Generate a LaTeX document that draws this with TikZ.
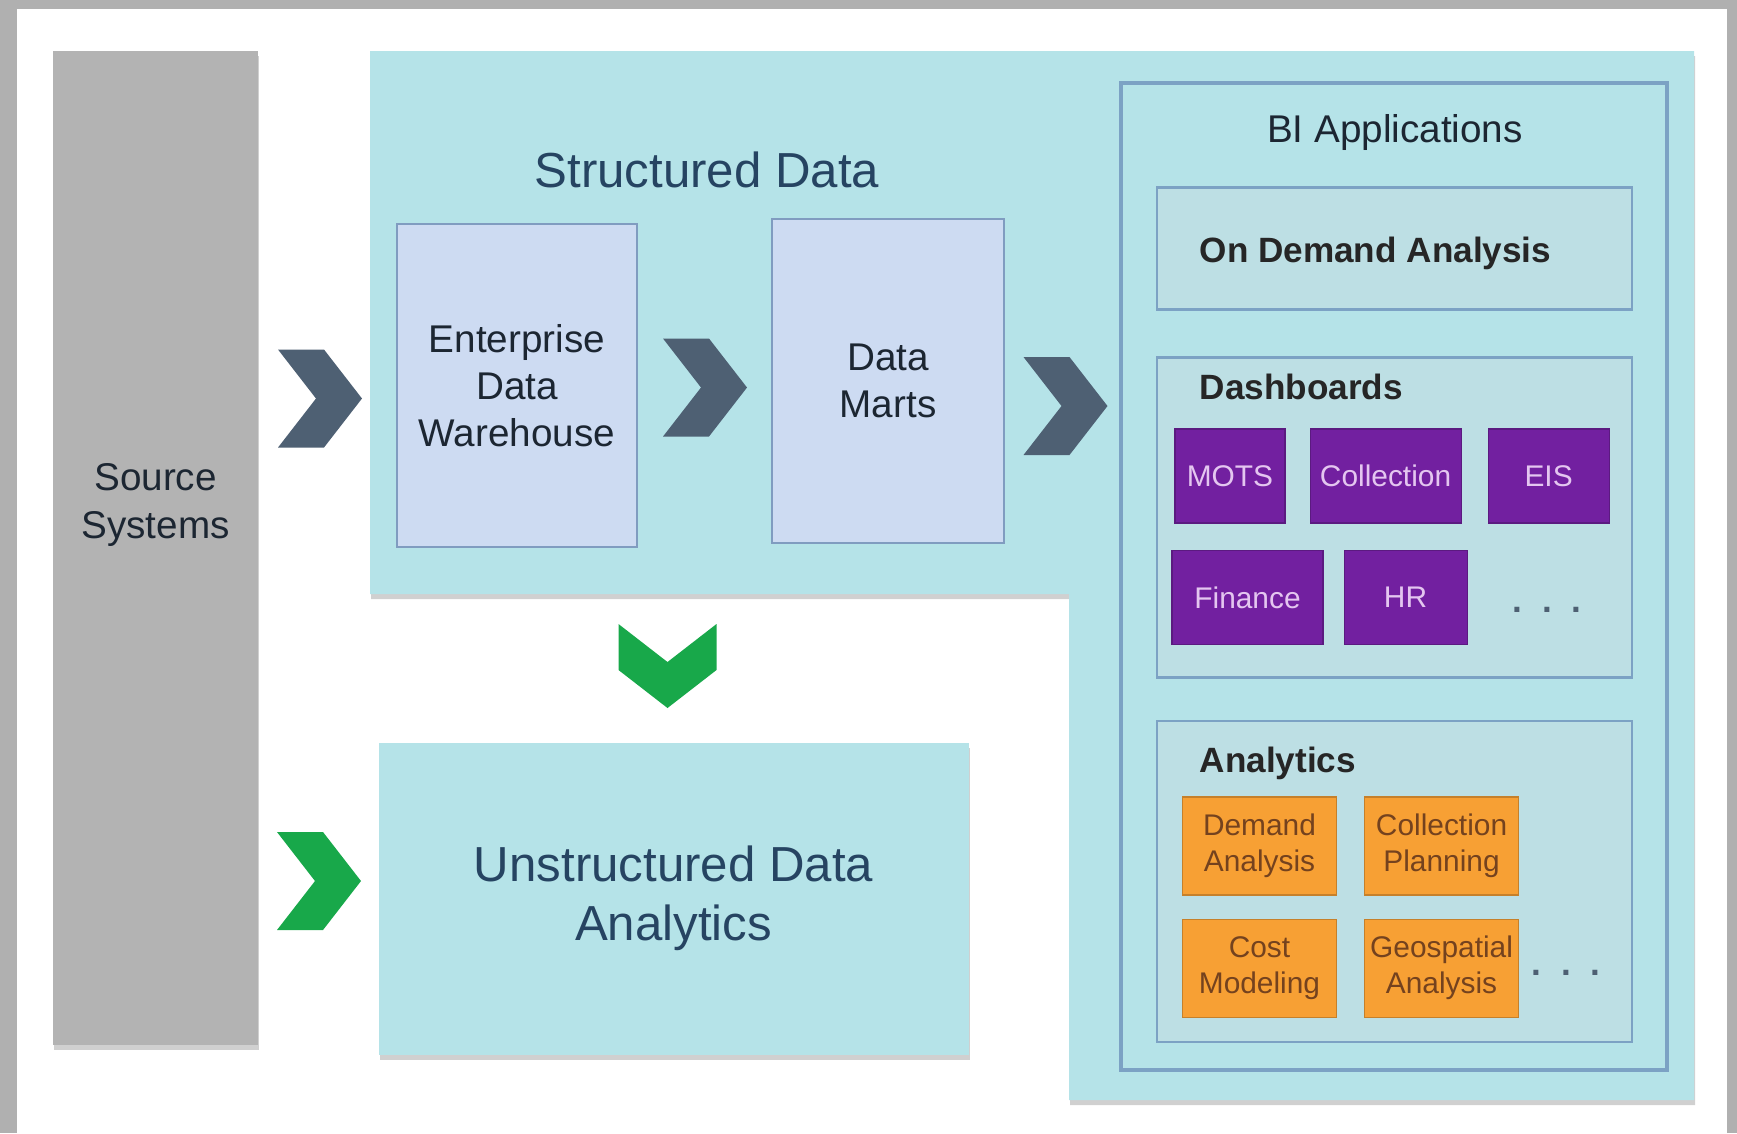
\documentclass[tikz,border=0pt]{standalone}
\usepackage{fontspec}
\setmainfont{Liberation Sans}
\usepackage{xcolor}
\usetikzlibrary{positioning,shadows}

\definecolor{framegray}{RGB}{176,176,176}
\definecolor{srcgray}{RGB}{179,179,179}
\definecolor{aqua}{RGB}{181,227,232}
\definecolor{grpfill}{RGB}{189,223,228}
\definecolor{biline}{RGB}{124,162,196}
\definecolor{whfill}{RGB}{205,219,242}
\definecolor{whline}{RGB}{128,156,192}
\definecolor{slate}{RGB}{78,96,115}
\definecolor{leaf}{RGB}{24,168,74}
\definecolor{tilepurple}{RGB}{114,32,160}
\definecolor{tiletext}{RGB}{228,198,240}
\definecolor{tileorange}{RGB}{247,160,52}
\definecolor{tilebrown}{RGB}{116,66,30}
\definecolor{tealink}{RGB}{38,68,98}
\definecolor{inkdark}{RGB}{28,38,50}

\begin{document}
\begin{tikzpicture}[
    x=1cm, y=-1cm,
    lift/.style={drop shadow={shadow xshift=0.01cm, shadow yshift=-0.05cm, opacity=0.3, fill=black!60}},
    srcbox/.style={rectangle, fill=srcgray, inner sep=0pt},
    whbox/.style={rectangle, draw=whline, fill=whfill, line width=0.6pt, inner sep=0pt,
                  align=center, text=inkdark, font=\fontsize{11}{13.4}\selectfont},
    grpbox/.style={rectangle, draw=biline, fill=grpfill, line width=0.8pt, inner sep=0pt,
                   minimum width=4.75cm},
    grptitle/.style={anchor=base west, inner sep=0pt, text=black!85,
                     font=\fontsize{10}{12}\selectfont\bfseries},
    dtile/.style={rectangle, fill=tilepurple, draw=tilepurple!80!black, line width=0.3pt,
                  inner sep=0pt, minimum height=0.94cm, text=tiletext,
                  font=\fontsize{8.5}{10}\selectfont},
    atile/.style={rectangle, fill=tileorange, draw=tileorange!80!black, line width=0.3pt,
                  inner sep=0pt, minimum width=1.54cm, minimum height=0.98cm, align=center,
                  text=tilebrown, font=\fontsize{8.5}{10.2}\selectfont},
    more/.style={inner sep=0pt, text=slate, font=\fontsize{10}{12}\selectfont\bfseries},
    chev/.pic={\fill[pic actions] (-0.42,-0.49) -- (0.04,-0.49) -- (0.42,0)
               -- (0.04,0.49) -- (-0.42,0.49) -- (-0.04,0) -- cycle;},
]
\useasboundingbox (0,0) rectangle (17.37,11.33);
\fill[framegray] (0,0) rectangle (17.37,11.33);
\fill[white] (0.17,0.09) rectangle (17.27,11.33);

% structured data area
\fill[aqua, lift] (3.70,0.51) -- (16.94,0.51) -- (16.94,11.00) -- (10.69,11.00)
    -- (10.69,5.94) -- (3.70,5.94) -- cycle;

\node[srcbox, lift, minimum width=2.04cm, minimum height=9.94cm] (src) at (1.555,5.48) {};
\node[align=center, text=inkdark, font=\fontsize{11}{13.4}\selectfont] (srctxt) at (1.555,5.05) {Source\\Systems};

\node[anchor=base, text=tealink, font=\fontsize{14}{16.8}\selectfont] (sdttl) at (7.07,1.87) {Structured Data};
\node[whbox, minimum width=2.40cm, minimum height=3.23cm] (edw) at (5.17,3.855) {Enterprise\\Data\\Warehouse};
\node[whbox, minimum width=2.32cm, minimum height=3.24cm] (dm) at (8.88,3.81) {Data\\Marts};

\node[rectangle, fill=aqua, lift, minimum width=5.90cm, minimum height=3.12cm, align=center,
      text=tealink, font=\fontsize{14}{16.8}\selectfont] (uda) at (6.735,8.985) {Unstructured Data\\Analytics};

% BI applications
\node[rectangle, draw=biline, line width=1.1pt, minimum width=5.46cm, minimum height=9.87cm] (bi) at (13.94,5.765) {};
\node[anchor=base, text=inkdark, font=\fontsize{11}{13.4}\selectfont] (bittl) at (13.95,1.42) {BI Applications};

\node[grpbox, minimum height=1.22cm] (oda) at (13.945,2.485) {};
\node[grptitle] (odattl) at (11.99,2.625) {On Demand Analysis};

\node[grpbox, minimum height=3.20cm] (dash) at (13.945,5.175) {};
\node[grptitle] (dashttl) at (11.99,3.995) {Dashboards};
\node[dtile, minimum width=1.10cm] (mots) at (12.30,4.76) {MOTS};
\node[dtile, minimum width=1.51cm, right=0.24cm of mots] (coll) {Collection};
\node[dtile, minimum width=1.21cm, right=0.26cm of coll] (eis) {EIS};
\node[dtile, minimum width=1.51cm] (fin) at (12.475,5.975) {Finance};
\node[dtile, minimum width=1.23cm, right=0.20cm of fin] (hr) {HR};
\node[more] (dashmore) at (15.47,6.10) {.\ \ .\ \ .};

\node[grpbox, minimum height=3.21cm] (anly) at (13.945,8.815) {};
\node[grptitle] (anlyttl) at (11.99,7.725) {Analytics};
\node[atile] (dem) at (12.595,8.46) {Demand\\Analysis};
\node[atile, right=0.27cm of dem] (colp) {Collection\\Planning};
\node[atile, below=0.23cm of dem] (cost) {Cost\\Modeling};
\node[atile, below=0.23cm of colp] (geo) {Geospatial\\Analysis};
\node[more] (anlymore) at (15.66,9.73) {.\ \ .\ \ .};

% flow chevrons
\pic[fill=slate] (chsrc) at (3.20,3.985) {chev};
\pic[fill=slate] (chedw) at (7.05,3.875) {chev};
\pic[fill=slate] (chdm) at (10.655,4.06) {chev};
\pic[fill=leaf, rotate=-90] (chdown) at (6.675,6.66) {chev};
\pic[fill=leaf] (chuda) at (3.19,8.81) {chev};
\end{tikzpicture}
\end{document}
